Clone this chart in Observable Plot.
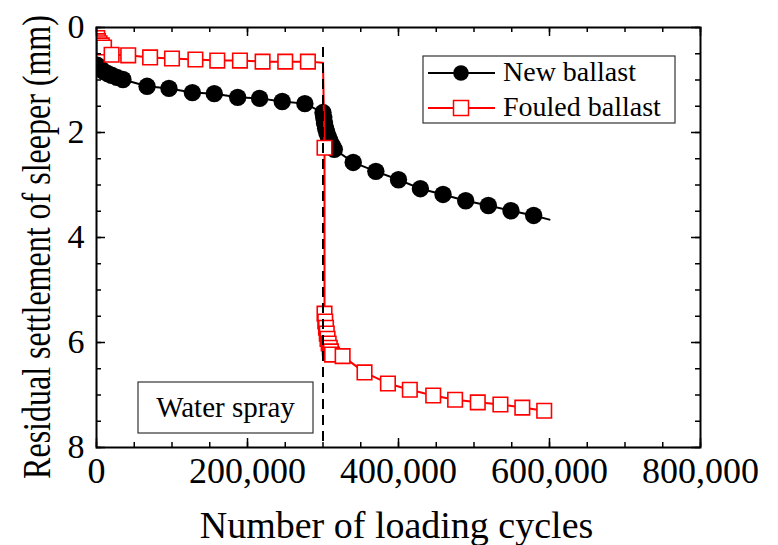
<!DOCTYPE html>
<html>
<head>
<meta charset="utf-8">
<script src="https://cdn.jsdelivr.net/npm/d3@7"></script>
<script src="https://cdn.jsdelivr.net/npm/@observablehq/plot@0.6"></script>
<style>
  body { margin: 0; background: #fff; }
  #chart svg { display: block; }
</style>
</head>
<body>
<div id="chart"></div>
<script>
// Residual settlement of the sleeper (mm) against loading cycles,
// water sprayed onto the ballast at 300,000 cycles.
const newCycles = [1000, 3000, 6000, 10000, 15000, 20000, 27000, 35000,
  67000, 96000, 127000, 156000, 187000, 216000, 246000, 276000,
  300000, 301000, 302000, 303500, 305000, 307000, 309000, 312000, 315000,
  340000, 370000, 400000, 429000, 459000, 489000, 519000, 549000, 579000, 600000];
const newSettlement = [0.72, 0.76, 0.8, 0.84, 0.88, 0.91, 0.95, 0.99,
  1.12, 1.16, 1.24, 1.26, 1.33, 1.35, 1.41, 1.45,
  1.62, 1.72, 1.82, 1.92, 2.0, 2.08, 2.15, 2.24, 2.32,
  2.57, 2.74, 2.9, 3.07, 3.18, 3.3, 3.39, 3.49, 3.58, 3.66];

const fouledCycles = [1000, 2000, 4000, 7000, 10000,
  20000, 42000, 71000, 100000, 131000, 160000, 190000, 220000, 250000, 280000,
  300000,
  302000, 302000, 303000, 304000, 305000, 306000, 307500, 309000, 310500, 312000,
  326000, 355000, 386000, 415000, 446000, 475000, 505000, 535000, 564000, 593000];
const fouledSettlement = [0.2, 0.26, 0.3, 0.34, 0.38,
  0.52, 0.53, 0.57, 0.59, 0.61, 0.63, 0.63, 0.65, 0.65, 0.65,
  0.67,
  2.29, 5.45, 5.6, 5.72, 5.83, 5.93, 6.02, 6.1, 6.17, 6.23,
  6.26, 6.57, 6.78, 6.9, 7.01, 7.09, 7.14, 7.18, 7.24, 7.3];

// readings drawn on the line only, without a marker
const newBare = [600000];
const fouledBare = [300000];

const sprayCycle = 300000;
const seriesNames = ["New ballast", "Fouled ballast"];
const xTickValues = [0, 200000, 400000, 600000, 800000];
const yTickValues = [0, 2, 4, 6, 8];

const serif = "'Liberation Serif', 'Times New Roman', Times, serif";
const W = 778, H = 545;
const M = {top: 27, right: 78, bottom: 98, left: 96};
const plotW = W - M.left - M.right;
const plotH = H - M.top - M.bottom;

const newRows = newCycles.map((x, i) => ({x, y: newSettlement[i]}));
const fouledRows = fouledCycles.map((x, i) => ({x, y: fouledSettlement[i]}));

const xMinor = d3.range(0, 800001, 50000);
const yMinor = d3.range(0, 8.001, 0.5);

// inward ticks on all four sides of the frame
const ticksX = (vals, len) => [
  Plot.tickX(vals, {x: d => d, stroke: "black", strokeWidth: 1.5, insetTop: plotH - len}),
  Plot.tickX(vals, {x: d => d, stroke: "black", strokeWidth: 1.5, insetBottom: plotH - len})
];
const ticksY = (vals, len) => [
  Plot.tickY(vals, {y: d => d, stroke: "black", strokeWidth: 1.5, insetRight: plotW - len}),
  Plot.tickY(vals, {y: d => d, stroke: "black", strokeWidth: 1.5, insetLeft: plotW - len})
];

const chart = Plot.plot({
  width: W,
  height: H,
  marginTop: M.top,
  marginRight: M.right,
  marginBottom: M.bottom,
  marginLeft: M.left,
  style: {fontFamily: serif, background: "white", color: "black", overflow: "visible"},
  x: {domain: [0, 800000]},
  y: {domain: [0, 8], reverse: true},
  marks: [
    Plot.line(newRows, {x: "x", y: "y", stroke: "black", strokeWidth: 2, clip: true}),
    Plot.dot(newRows.filter(d => !newBare.includes(d.x)),
      {x: "x", y: "y", r: 8.7, fill: "black", stroke: "none", clip: true}),
    Plot.line(fouledRows, {x: "x", y: "y", stroke: "#ff0000", strokeWidth: 2, clip: true}),
    Plot.dot(fouledRows.filter(d => !fouledBare.includes(d.x)),
      {x: "x", y: "y", symbol: "square", r: 8.2, fill: "white", stroke: "#ff0000", strokeWidth: 1.6, clip: true}),
    Plot.ruleX([sprayCycle], {y1: 0.38, y2: 8, stroke: "black", strokeWidth: 2, strokeDasharray: "10,6"}),
    ...ticksX(xMinor, 5),
    ...ticksX(xTickValues, 9),
    ...ticksY(yMinor, 5),
    ...ticksY(yTickValues, 9),
    Plot.frame({stroke: "black", strokeWidth: 2}),
    Plot.axisX(xTickValues, {anchor: "bottom", tickSize: 0, tickPadding: 10, fontSize: 36,
      tickFormat: d3.format(","), label: null}),
    Plot.axisY(yTickValues, {anchor: "left", tickSize: 0, tickPadding: 12, fontSize: 34,
      tickFormat: d3.format("d"), label: null}),
    Plot.text(["Number of loading cycles"], {frameAnchor: "bottom", lineAnchor: "bottom",
      dy: 90, dx: -2, fontSize: 38, fill: "black"})
  ]
});

document.getElementById("chart").append(chart);

const svg = d3.select(chart);

// vertical axis title
svg.append("text")
  .attr("transform", "translate(50,247) rotate(-90) scale(1,1.25)")
  .attr("text-anchor", "middle")
  .attr("font-family", serif)
  .attr("font-size", 32)
  .attr("fill", "black")
  .text("Residual settlement of sleeper (mm)");

// legend
const legend = svg.append("g")
  .attr("font-family", serif).attr("font-size", 28).attr("text-anchor", "start");
legend.append("rect")
  .attr("x", 423).attr("y", 56).attr("width", 252).attr("height", 67)
  .attr("fill", "white").attr("stroke", "#333").attr("stroke-width", 1.2);
const rows = [
  {name: seriesNames[0], color: "black", cy: 73},
  {name: seriesNames[1], color: "#ff0000", cy: 108}
];
rows.forEach((r, i) => {
  legend.append("line")
    .attr("x1", 428).attr("x2", 495).attr("y1", r.cy).attr("y2", r.cy)
    .attr("stroke", r.color).attr("stroke-width", 2);
  if (i === 0) {
    legend.append("circle").attr("cx", 461).attr("cy", r.cy).attr("r", 7.8).attr("fill", "black");
  } else {
    legend.append("rect").attr("x", 453.5).attr("y", r.cy - 7.5).attr("width", 15).attr("height", 15)
      .attr("fill", "white").attr("stroke", r.color).attr("stroke-width", 1.5);
  }
  legend.append("text").attr("x", 503).attr("y", r.cy + 8).attr("fill", "black").text(r.name);
});

// annotation for the water spray event
const note = svg.append("g").attr("font-family", serif);
note.append("rect")
  .attr("x", 138).attr("y", 382).attr("width", 175).attr("height", 51)
  .attr("fill", "white").attr("stroke", "#333").attr("stroke-width", 1.2);
note.append("text")
  .attr("x", 225.5).attr("y", 417).attr("text-anchor", "middle")
  .attr("font-size", 29).attr("fill", "black")
  .text("Water spray");
</script>
</body>
</html>
